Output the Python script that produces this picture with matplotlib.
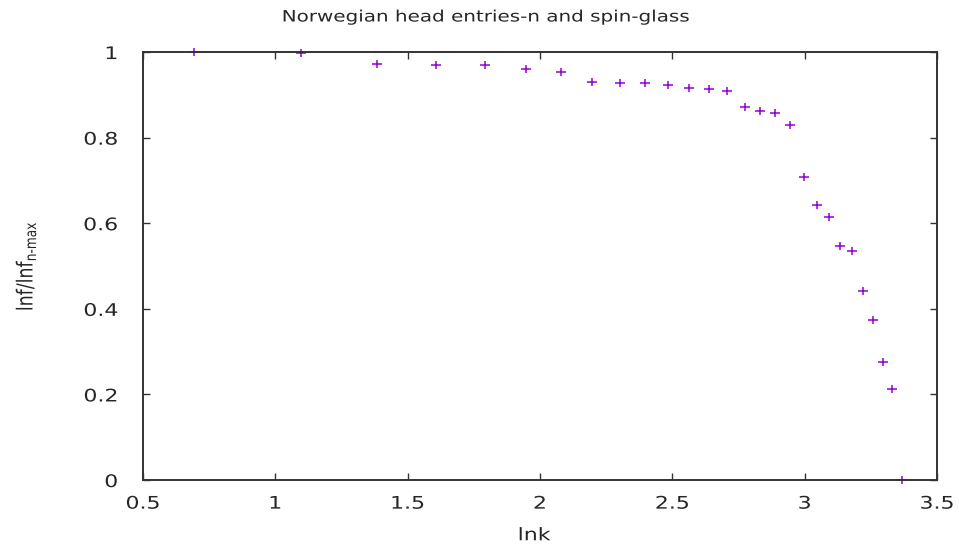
import matplotlib
matplotlib.use("Agg")
import matplotlib.pyplot as plt
from matplotlib.path import Path
from matplotlib.patheffects import AbstractPathEffect
from matplotlib.transforms import Affine2D

plt.rcParams['font.family'] = ['DejaVu Sans']
plt.rcParams['mathtext.fontset'] = 'dejavusans'

# ln k for k = 2 .. 29
lnk = [0.693, 1.099, 1.386, 1.609, 1.792, 1.946, 2.079, 2.197, 2.303, 2.398,
       2.485, 2.565, 2.639, 2.708, 2.773, 2.833, 2.890, 2.944, 2.996, 3.045,
       3.091, 3.135, 3.178, 3.219, 3.258, 3.296, 3.332, 3.367]
# normalised ln f
lnf_ratio = [1.000, 0.997, 0.972, 0.970, 0.970, 0.961, 0.953, 0.931, 0.928, 0.928,
             0.923, 0.917, 0.914, 0.910, 0.871, 0.863, 0.857, 0.829, 0.707, 0.643,
             0.615, 0.547, 0.536, 0.442, 0.375, 0.276, 0.213, 0.000]

xticks = [0.5, 1, 1.5, 2, 2.5, 3, 3.5]
xticklabels = ['0.5', '1', '1.5', '2', '2.5', '3', '3.5']
yticks = [0, 0.2, 0.4, 0.6, 0.8, 1]
yticklabels = ['0', '0.2', '0.4', '0.6', '0.8', '1']

WIDEN = 1.27          # horizontal stretch of the lettering
TEXT_COLOR = '#262626'
FRAME_COLOR = '#333333'


class Widen(AbstractPathEffect):
    """Stretch glyphs along one local text axis about an anchor point."""

    def __init__(self, s, anchor=0.5, axis='x'):
        super().__init__()
        self.s = s
        self.anchor = anchor
        self.axis = axis

    def draw_path(self, renderer, gc, tpath, affine, rgbFace=None):
        ext = tpath.get_extents()
        if self.axis == 'x':
            p = ext.x0 + self.anchor * (ext.x1 - ext.x0)
            pre = Affine2D().translate(-p, 0).scale(self.s, 1).translate(p, 0)
        else:
            p = ext.y0 + self.anchor * (ext.y1 - ext.y0)
            pre = Affine2D().translate(0, -p).scale(1, self.s).translate(0, p)
        renderer.draw_path(gc, tpath, pre + affine, rgbFace)


# plus sign, slightly wider than tall
plus = Path([(-WIDEN, 0), (WIDEN, 0), (0, -1), (0, 1)],
            [Path.MOVETO, Path.LINETO, Path.MOVETO, Path.LINETO])

fig = plt.figure(figsize=(9.59, 5.48), dpi=100)
ax = fig.add_axes([0.149, 0.124, 0.828, 0.781])

ax.plot(lnk, lnf_ratio, linestyle='none', marker=plus, color='#9400d3',
        markersize=7.4, markeredgewidth=1.1, clip_on=False)

ax.set_xlim(0.5, 3.5)
ax.set_ylim(0, 1)
ax.set_xticks(xticks)
ax.set_xticklabels(xticklabels)
ax.set_yticks(yticks)
ax.set_yticklabels(yticklabels)

ax.tick_params(direction='in', length=5, width=1, colors=FRAME_COLOR,
               labelcolor=TEXT_COLOR, labelsize=12.5, top=True, right=True)
ax.tick_params(axis='x', pad=10.5)
ax.tick_params(axis='y', pad=18)
for s in ax.spines.values():
    s.set_linewidth(1.4)
    s.set_color(FRAME_COLOR)

# title centred on the whole canvas
title = fig.text(486 / 959, 1 - 17 / 548, 'Norwegian head entries-n and spin-glass',
                 fontsize=11.3, color=TEXT_COLOR, ha='center', va='center')
xl = ax.set_xlabel('lnk', fontsize=12.5, color=TEXT_COLOR)
ax.xaxis.set_label_coords(0.493, -0.108)
yl = ax.set_ylabel(r'lnf/lnf$_{\mathregular{n\text{-}max}}$', fontsize=12.5,
                   color=TEXT_COLOR, labelpad=39)

for t in ax.get_xticklabels():
    t.set_path_effects([Widen(WIDEN, 0.5)])
for t in ax.get_yticklabels():
    t.set_path_effects([Widen(WIDEN, 1.0)])
for t in (title, xl):
    t.set_path_effects([Widen(WIDEN, 0.5)])
yl.set_path_effects([Widen(WIDEN, 0.5, axis='y')])

fig.savefig('out.png', dpi=100)
